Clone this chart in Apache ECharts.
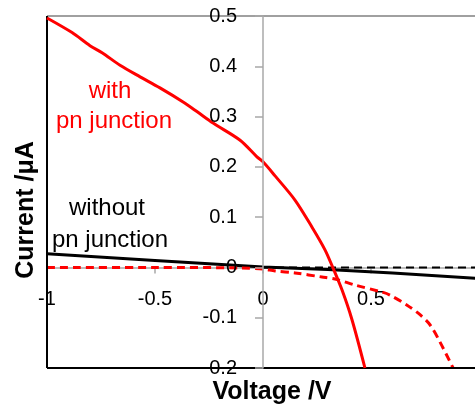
<!DOCTYPE html>
<html>
<head>
<meta charset="utf-8">
<script src="https://cdn.jsdelivr.net/npm/echarts@6/dist/echarts.min.js"></script>
<style>html,body{margin:0;padding:0;background:#fff;}#c{width:475px;height:409px;}</style>
</head>
<body>
<div id="c"></div>
<script>
// Axis ticks
const xTicks = [-1, -0.5, 0, 0.5, 1];
const yTicks = [-0.2, -0.1, 0, 0.1, 0.2, 0.3, 0.4, 0.5];

// with pn junction, illuminated (red solid)
const vWithLight = [-1, -0.884, -0.801, -0.745, -0.662, -0.569, -0.477, -0.370, -0.306, -0.231, -0.106, -0.028, 0, 0.056, 0.148, 0.227, 0.287, 0.324, 0.366, 0.412, 0.472];
const iWithLight = [0.496, 0.467, 0.441, 0.427, 0.402, 0.379, 0.357, 0.329, 0.310, 0.287, 0.253, 0.220, 0.210, 0.182, 0.134, 0.080, 0.035, -0.001, -0.045, -0.104, -0.200];

// with pn junction, dark (red dashed)
const vWithDark = [-1, -0.5, -0.1, 0, 0.056, 0.148, 0.273, 0.333, 0.426, 0.551, 0.588, 0.667, 0.727, 0.773, 0.819, 0.880];
const iWithDark = [0.0, 0.0, -0.001, -0.003, -0.007, -0.011, -0.019, -0.023, -0.035, -0.049, -0.055, -0.075, -0.094, -0.114, -0.148, -0.200];

// without pn junction, illuminated (black solid)
const vWithoutLight = [-1, -0.5, 0, 0.3, 0.6, 1];
const iWithoutLight = [0.027, 0.014, 0.001, -0.004, -0.011, -0.022];

// without pn junction, dark (black dashed)
const vWithoutDark = [0, 0.5, 1];
const iWithoutDark = [0, 0, 0];

function pairs(xs, ys) { return xs.map((x, i) => [x, ys[i]]); }

const FONT = '"Liberation Sans", Arial, sans-serif';
const xMin = xTicks[0], xMax = xTicks[xTicks.length - 1], xStep = xTicks[1] - xTicks[0];
const yMin = yTicks[0], yMax = yTicks[yTicks.length - 1], yStep = 0.1;

// plot layout
const G = { left: 47, top: 16, width: 432, height: 352 };
// offsets that place each axis where the other axis has value 0
const yAxisOffset = -G.width * (0 - xMin) / (xMax - xMin);
const xAxisOffset = -G.height * (0 - yMin) / (yMax - yMin);

const chart = echarts.init(document.getElementById('c'), null, { renderer: 'canvas' });
const option = {
  animation: false,
  backgroundColor: '#fff',
  grid: { left: G.left, top: G.top, width: G.width, height: G.height, containLabel: false, outerBoundsMode: 'none' },
  xAxis: {
    type: 'value', min: xMin, max: xMax, interval: xStep, position: 'bottom', offset: xAxisOffset, z: 1,
    axisLine: { onZero: false, lineStyle: { color: '#a8a8a8', width: 1.5 } },
    axisTick: { show: true, length: 6, lineStyle: { color: '#a8a8a8', width: 1.5 } },
    axisLabel: { color: '#000', fontSize: 20, fontFamily: FONT, margin: 22, showMaxLabel: true },
    splitLine: { show: false },
    name: 'Voltage /V', nameLocation: 'middle', nameGap: 112,
    nameTextStyle: { color: '#000', fontSize: 25, fontWeight: 'bold', fontFamily: FONT, padding: [0, 0, 0, 18] }
  },
  yAxis: {
    type: 'value', min: yMin, max: yMax, interval: yStep, position: 'left', offset: yAxisOffset, z: 10,
    axisLine: { onZero: false, lineStyle: { color: '#a8a8a8', width: 1.5 } },
    axisTick: { show: true, length: 8, lineStyle: { color: '#a8a8a8', width: 1.5 } },
    axisLabel: { color: '#000', fontSize: 20, fontFamily: FONT, margin: 26 },
    splitLine: { show: false },
    name: 'Current /μA', nameLocation: 'middle', nameGap: 224,
    nameTextStyle: { color: '#000', fontSize: 25, fontWeight: 'bold', fontFamily: FONT, padding: [0, 36, 0, 0] }
  },
  graphic: [
    { type: 'text', x: 110, y: 91, style: { text: 'with', fill: '#ff0000', font: '24px ' + FONT, textAlign: 'center', textVerticalAlign: 'middle' } },
    { type: 'text', x: 114, y: 121, style: { text: 'pn junction', fill: '#ff0000', font: '24px ' + FONT, textAlign: 'center', textVerticalAlign: 'middle' } },
    { type: 'text', x: 107, y: 208, style: { text: 'without', fill: '#000', font: '24px ' + FONT, textAlign: 'center', textVerticalAlign: 'middle' } },
    { type: 'text', x: 110, y: 240, style: { text: 'pn junction', fill: '#000', font: '24px ' + FONT, textAlign: 'center', textVerticalAlign: 'middle' } }
  ],
  series: [
    {
      name: 'without pn junction (dark)', type: 'line',
      data: pairs(vWithoutDark, iWithoutDark), showSymbol: false, clip: true,
      lineStyle: { color: '#000', width: 2, type: [8, 5] }, z: 2,
      markLine: {
        silent: true, symbol: 'none', label: { show: false },
        data: [
          { yAxis: yMax, lineStyle: { color: '#808080', width: 1.5, type: 'solid' } },
          { yAxis: yMin, lineStyle: { color: '#000', width: 2, type: 'solid' } },
          { xAxis: xMin, lineStyle: { color: '#000', width: 2, type: 'solid' } }
        ]
      }
    },
    {
      name: 'without pn junction (light)', type: 'line',
      data: pairs(vWithoutLight, iWithoutLight), showSymbol: false, clip: true,
      lineStyle: { color: '#000', width: 3 }, z: 3
    },
    {
      name: 'with pn junction (dark)', type: 'line',
      data: pairs(vWithDark, iWithDark), showSymbol: false, smooth: 0.3, clip: true,
      lineStyle: { color: '#ff0000', width: 3, type: [8, 5] }, z: 4
    },
    {
      name: 'with pn junction (light)', type: 'line',
      data: pairs(vWithLight, iWithLight), showSymbol: false, smooth: 0.3, clip: true,
      lineStyle: { color: '#ff0000', width: 3 }, z: 5
    }
  ]
};
chart.setOption(option);
</script>
</body>
</html>
